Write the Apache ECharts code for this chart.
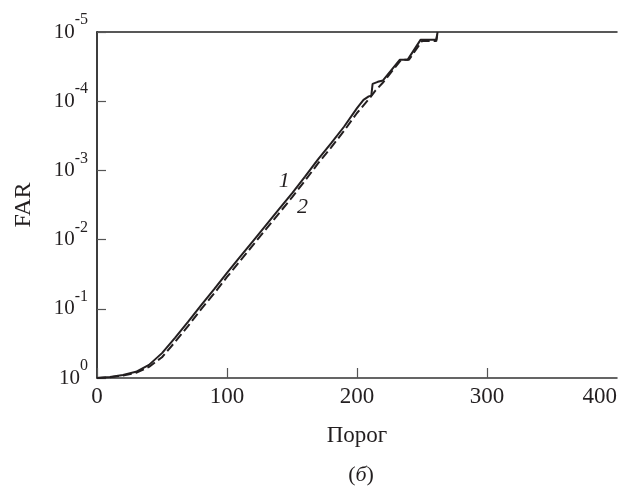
<!DOCTYPE html>
<html>
<head>
<meta charset="utf-8">
<script src="https://cdn.jsdelivr.net/npm/echarts@6/dist/echarts.min.js"></script>
<style>
  html, body { margin: 0; padding: 0; background: #fff; }
  #chart { width: 621px; height: 487px; }
</style>
</head>
<body>
<div id="chart"></div>
<script>
// Threshold values (Порог) and false acceptance rate for the two curves
const threshold1 = [0, 10, 20, 30, 40, 50, 60, 70, 80, 90, 100, 110, 120, 130, 140, 150, 160, 170, 180, 190, 200, 205, 209, 211, 212, 216, 220, 233, 239, 249, 261, 262];
const far1 = [1, 0.966, 0.902, 0.813, 0.646, 0.437, 0.263, 0.155, 0.0891, 0.0525, 0.0302, 0.0178, 0.0105, 0.00617, 0.00363, 0.00214, 0.00123, 0.000692, 0.000407, 0.000234, 0.000126, 0.0000955, 0.0000851, 0.0000832, 0.0000562, 0.0000525, 0.0000501, 0.0000251, 0.0000251, 0.0000129, 0.0000129, 0.00001];

const threshold2 = [0, 10, 20, 30, 40, 50, 60, 70, 80, 90, 100, 110, 120, 130, 140, 150, 160, 170, 180, 190, 200, 210, 214, 220, 234, 240, 250, 261, 262];
const far2 = [1, 0.977, 0.923, 0.841, 0.692, 0.501, 0.302, 0.178, 0.102, 0.0603, 0.0347, 0.0204, 0.012, 0.00708, 0.00417, 0.00245, 0.00141, 0.000794, 0.000468, 0.000269, 0.000148, 0.0000891, 0.0000708, 0.0000537, 0.0000251, 0.0000251, 0.0000135, 0.0000135, 0.00001];

// Curve labels and their anchor points
const curveLabels = ['1', '2'];
const labelAnchors = [[144, 0.00145], [158, 0.0034]];

const xTicks = [0, 100, 200, 300, 400];
const xTickMarks = [0, 100, 200, 300];

const FONT = 'Liberation Serif';
const INK = '#231f20';

const zip = (xs, ys) => xs.map((x, i) => [x, ys[i]]);

const chart = echarts.init(document.getElementById('chart'), null, { renderer: 'canvas' });

// Powers of ten drawn as "10" with a raised exponent
const yLabel = {
  show: true,
  margin: 9,
  fontFamily: FONT,
  color: INK,
  formatter: v => {
    const e = Math.round(Math.log10(v));
    return '{b|10}{s|' + e + '}';
  },
  rich: {
    b: { fontFamily: FONT, fontSize: 21, lineHeight: 22, color: INK, verticalAlign: 'middle' },
    s: { fontFamily: FONT, fontSize: 16, lineHeight: 16, color: INK, verticalAlign: 'middle', padding: [0, 0, 24, 0] }
  }
};

chart.setOption({
  animation: false,
  backgroundColor: '#fff',
  grid: { left: 97, right: 4, top: 32, bottom: 109, containLabel: false, outerBoundsMode: 'none' },
  title: {
    text: '({i|б})',
    left: 356,
    top: 459,
    textAlign: 'center',
    textStyle: {
      fontFamily: FONT, fontSize: 22, fontWeight: 'normal', color: INK,
      rich: { i: { fontFamily: FONT, fontSize: 22, fontStyle: 'italic', color: INK } }
    }
  },
  xAxis: [{
    type: 'value',
    min: 0, max: 400, interval: 100,
    name: 'Порог',
    nameLocation: 'middle',
    nameGap: 46,
    nameTextStyle: { fontFamily: FONT, fontSize: 23, color: INK },
    axisLine: { show: true, lineStyle: { color: '#333', width: 1.5 } },
    axisTick: { show: true, inside: true, length: 10, customValues: xTickMarks, lineStyle: { color: '#555', width: 1.2 } },
    axisLabel: {
      margin: 7, fontFamily: FONT, fontSize: 23, color: INK,
      alignMaxLabel: 'right',
      customValues: xTicks
    },
    splitLine: { show: false }
  }, {
    type: 'value',
    position: 'top',
    min: 0, max: 400,
    axisLine: { show: true, lineStyle: { color: '#222', width: 1.5 } },
    axisTick: { show: false },
    axisLabel: { show: false },
    splitLine: { show: false }
  }],
  yAxis: [{
    type: 'log',
    logBase: 10,
    min: 0.00001, max: 1,
    inverse: true,
    name: 'FAR',
    nameLocation: 'middle',
    nameRotate: 90,
    nameGap: 61,
    nameTextStyle: { fontFamily: FONT, fontSize: 24, color: INK },
    axisLine: { show: true, lineStyle: { color: '#6b6b6b', width: 1.5 } },
    axisTick: { show: true, inside: true, length: 9, lineStyle: { color: '#555', width: 1.2 } },
    axisLabel: yLabel,
    splitLine: { show: false },
    minorTick: { show: false }
  }, {
    type: 'log',
    logBase: 10,
    min: 0.00001, max: 1,
    inverse: true,
    position: 'right',
    axisLine: { show: true, lineStyle: { color: '#222', width: 1.5 } },
    axisTick: { show: false },
    axisLabel: { show: false },
    splitLine: { show: false }
  }],
  series: [{
    type: 'line',
    name: '1',
    data: zip(threshold1, far1),
    showSymbol: false,
    symbol: 'none',
    smooth: false,
    lineStyle: { color: INK, width: 2 },
    z: 3,
    markPoint: {
      symbol: 'circle',
      symbolSize: 0,
      label: {
        show: true, position: 'inside',
        fontFamily: FONT, fontSize: 22, fontStyle: 'italic', color: INK,
        formatter: p => p.name
      },
      data: [{ name: curveLabels[0], coord: labelAnchors[0] }]
    }
  }, {
    type: 'line',
    name: '2',
    data: zip(threshold2, far2),
    showSymbol: false,
    symbol: 'none',
    smooth: false,
    lineStyle: { color: INK, width: 2, type: [9, 4] },
    z: 2,
    markPoint: {
      symbol: 'circle',
      symbolSize: 0,
      label: {
        show: true, position: 'inside',
        fontFamily: FONT, fontSize: 22, fontStyle: 'italic', color: INK,
        formatter: p => p.name
      },
      data: [{ name: curveLabels[1], coord: labelAnchors[1] }]
    }
  }]
});
</script>
</body>
</html>
